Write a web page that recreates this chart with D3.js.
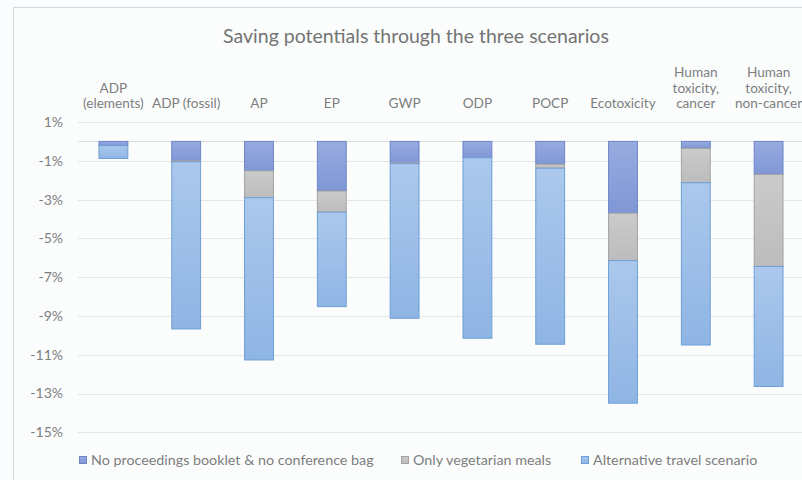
<!DOCTYPE html>
<html><head><meta charset="utf-8">
<script src="https://cdn.jsdelivr.net/npm/d3@7"></script>
<style>
html,body{margin:0;padding:0;background:#fafcfd;}
svg{display:block;font-family:Lato,"Open Sans",sans-serif;}
</style></head>
<body><svg id="c" width="802" height="480"></svg>
<script>
const title = "Saving potentials through the three scenarios";
const categories = ["ADP\n(elements)", "ADP (fossil)", "AP", "EP", "GWP", "ODP", "POCP", "Ecotoxicity", "Human\ntoxicity,\ncancer", "Human\ntoxicity,\nnon-cancer"];
const seriesNames = ["No proceedings booklet & no conference bag", "Only vegetarian meals", "Alternative travel scenario"];
const bookletValues = [-0.22, -1.00, -1.52, -2.56, -1.10, -0.84, -1.18, -3.70, -0.36, -1.70];
const vegetarianValues = [0.00, -0.05, -1.38, -1.09, -0.05, 0.00, -0.20, -2.45, -1.77, -4.75];
const travelValues = [-0.66, -8.62, -8.37, -4.87, -7.97, -9.31, -9.08, -7.35, -8.37, -6.19];
const yTicks = [1, -1, -3, -5, -7, -9, -11, -13, -15];

const svg = d3.select("#c");
const defs = svg.append("defs");
const fills = [
  {top:"#98abe0", bot:"#7f97d6", stroke:"#6a85c8"},
  {top:"#cbcbcb", bot:"#bcbcbc", stroke:"#a3a3a3"},
  {top:"#abc8ec", bot:"#8fb5e4", stroke:"#6d9fd8"}
];
fills.forEach((f,i)=>{
  const g = defs.append("linearGradient").attr("id","g"+i).attr("x1",0).attr("y1",0).attr("x2",0).attr("y2",1);
  g.append("stop").attr("offset","0%").attr("stop-color",f.top);
  g.append("stop").attr("offset","100%").attr("stop-color",f.bot);
});

// outer chart border
svg.append("rect").attr("x",13.5).attr("y",7.5).attr("width",900).attr("height",600)
  .attr("fill","#fbfdfd").attr("stroke","#d6d8d9");

const x = d3.scaleBand().domain(categories).range([77, 805]).paddingInner(0.59).paddingOuter(0.295);
const y = d3.scaleLinear().domain([-15, 1]).range([432.3, 122]);

// gridlines
svg.append("g").selectAll("line").data(yTicks).join("line")
  .attr("x1",78).attr("x2",806)
  .attr("y1",d=>Math.round(y(d))+0.5).attr("y2",d=>Math.round(y(d))+0.5)
  .attr("stroke","#e3e5e6").attr("stroke-width",1.2);

// y axis labels
const yAxis = d3.axisLeft(y).tickValues(yTicks).tickFormat(d=>d+"%").tickSize(0).tickPadding(0);
const ya = svg.append("g").attr("transform","translate(63,0)").call(yAxis);
ya.select(".domain").remove();
ya.selectAll("text").attr("fill","#7d7d7d").style("font-size","14px").style("font-family","Lato,sans-serif");

// zero axis line
svg.append("line").attr("x1",78).attr("x2",806).attr("y1",Math.round(y(0))+0.5).attr("y2",Math.round(y(0))+0.5)
  .attr("stroke","#dcdedf").attr("stroke-width",1);

// stacked data
const rows = categories.map((c,i)=>({cat:c, v:[bookletValues[i], vegetarianValues[i], travelValues[i]]}));
const segs = [];
rows.forEach(r=>{
  let acc = 0;
  r.v.forEach((v,k)=>{ segs.push({cat:r.cat, k, y0:acc, y1:acc+v}); acc += v; });
});
svg.append("g").selectAll("rect").data(segs.filter(s=>s.y0!==s.y1)).join("rect")
  .attr("x",d=>x(d.cat)+0.5)
  .attr("width",x.bandwidth()-1)
  .attr("y",d=>y(d.y0))
  .attr("height",d=>Math.max(0.5, y(d.y1)-y(d.y0)))
  .attr("fill",d=>"url(#g"+d.k+")")
  .attr("stroke",d=>fills[d.k].stroke).attr("stroke-width",1);

// category labels (bottom aligned above plot)
const lblG = svg.append("g");
categories.forEach(c=>{
  const lines = c.split("\n");
  const t = lblG.append("text").attr("text-anchor","middle").attr("fill","#7d7d7d")
    .style("font-size","13.6px");
  lines.forEach((ln,i)=>{
    t.append("tspan").attr("x",x(c)+x.bandwidth()/2)
      .attr("y",108 - (lines.length-1-i)*15.5).text(ln);
  });
});

// title
svg.append("text").attr("x",416).attr("y",43).attr("text-anchor","middle")
  .attr("fill","#747474").style("font-size","19.5px").text(title);

// legend
const legX = [79, 401, 581];
const lg = svg.append("g");
seriesNames.forEach((n,i)=>{
  lg.append("rect").attr("x",legX[i]+0.5).attr("y",456.5).attr("width",7).attr("height",7)
    .attr("fill","url(#g"+i+")").attr("stroke",fills[i].stroke);
  lg.append("text").attr("x",legX[i]+12).attr("y",465).attr("fill","#7d7d7d")
    .style("font-size","14.3px").text(n);
});
</script></body></html>
